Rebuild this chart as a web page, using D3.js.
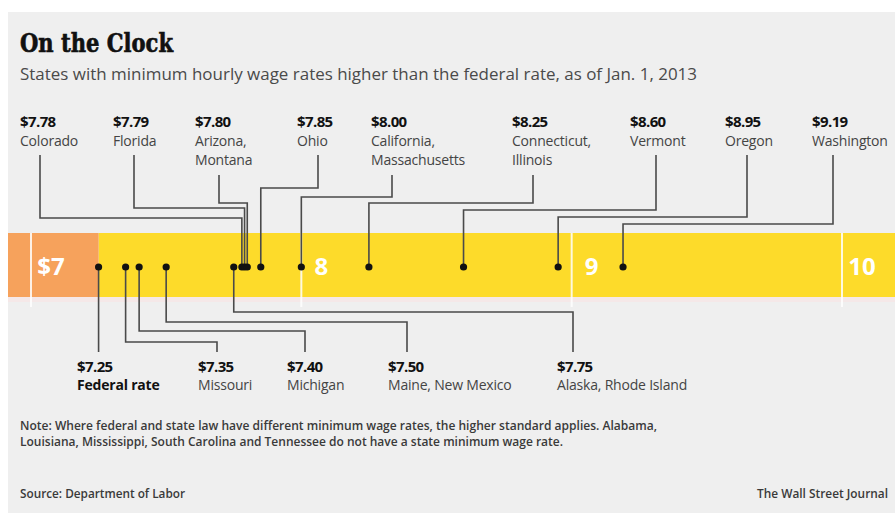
<!DOCTYPE html>
<html>
<head>
<meta charset="utf-8">
<script src="https://cdn.jsdelivr.net/npm/d3@7"></script>
<style>
  body { margin: 0; background: #fff; }
  svg { display: block; }
</style>
</head>
<body>
<svg id="chart"></svg>
<script>
// ---- data ----
const topValues = [7.78, 7.79, 7.80, 7.85, 8.00, 8.25, 8.60, 8.95, 9.19];
const topNames = ["Colorado", "Florida", "Arizona,|Montana", "Ohio", "California,|Massachusetts",
  "Connecticut,|Illinois", "Vermont", "Oregon", "Washington"];
const bottomValues = [7.25, 7.35, 7.40, 7.50, 7.75];
const bottomNames = ["Federal rate", "Missouri", "Michigan", "Maine, New Mexico", "Alaska, Rhode Island"];
const tickValues = [7, 8, 9, 10];
const tickLabels = ["$7", "8", "9", "10"];

// ---- label layout (annotation placement, not data) ----
const topLabelX = [20, 113, 195, 297, 371, 512, 630, 725, 812];
const topElbowY = [218, 208, 203, 188, 197, 203, 210, 217, 224];
const topLineOffset = [20, 21, 24, 21, 21, 21, 26, 22, 21];
const bottomLabelX = [77, 198, 287, 388, 557];
const bottomElbowY = [null, 342, 331, 322, 312];
const bottomLineOffset = [0, 19, 18, 19, 16];

const width = 895, height = 513;
const barTop = 233, barHeight = 64, dotY = 267;

const svg = d3.select("#chart").attr("width", width).attr("height", height);

svg.append("rect").attr("x", 8).attr("y", 12).attr("width", width - 8).attr("height", height - 12)
  .attr("fill", "#efefef");

const x = d3.scaleLinear().domain([7, 10]).range([31, 842]);
const federal = bottomValues[0];

// title
svg.append("text").attr("x", 20).attr("y", 52)
  .attr("font-family", "DejaVu Serif Condensed, DejaVu Serif").attr("font-stretch", "condensed")
  .attr("font-weight", "bold").attr("font-size", 26).attr("fill", "#111")
  .attr("stroke", "#111").attr("stroke-width", 0.6)
  .attr("textLength", 153).attr("lengthAdjust", "spacingAndGlyphs")
  .text("On the Clock");

svg.append("text").attr("x", 20).attr("y", 80)
  .attr("font-family", "Open Sans").attr("font-size", 15.5).attr("fill", "#4a4a4a")
  .attr("textLength", 677).attr("lengthAdjust", "spacingAndGlyphs")
  .text("States with minimum hourly wage rates higher than the federal rate, as of Jan. 1, 2013");

// bar
svg.append("rect").attr("x", x(federal)).attr("y", barTop)
  .attr("width", width - x(federal)).attr("height", barHeight).attr("fill", "#fddb2a");
svg.append("rect").attr("x", 8).attr("y", barTop)
  .attr("width", x(federal) - 8).attr("height", barHeight).attr("fill", "#f6a25c");
svg.append("rect").attr("x", 8).attr("y", barTop + barHeight)
  .attr("width", width - 8).attr("height", 5).attr("fill", "#f6e6e6").attr("opacity", 0.8);

const ticks = svg.append("g");
ticks.selectAll("line").data(tickValues).join("line")
  .attr("x1", d => x(d)).attr("x2", d => x(d))
  .attr("y1", barTop).attr("y2", barTop + barHeight + 10)
  .attr("stroke", "#fff").attr("stroke-width", 2).attr("opacity", 0.85);
ticks.selectAll("text").data(tickValues).join("text")
  .attr("x", d => x(d) + 20).attr("y", 275)
  .attr("text-anchor", "middle")
  .attr("font-family", "Open Sans").attr("font-weight", "bold").attr("font-size", 24)
  .attr("fill", "#fff")
  .text((d, i) => tickLabels[i]);

// leader lines
const lineColor = "#4a4a4a";
const leaders = svg.append("g").attr("fill", "none").attr("stroke", lineColor).attr("stroke-width", 1.6);

topValues.forEach((v, i) => {
  const lines = topNames[i].split("|").length;
  const ax = topLabelX[i] + topLineOffset[i];
  const startY = 155 + (lines - 1) * 20;
  leaders.append("path")
    .attr("d", `M${x(v)},${dotY}V${topElbowY[i]}H${ax}V${startY}`);
});

bottomValues.forEach((v, i) => {
  const d = bottomElbowY[i] == null
    ? `M${x(v)},${dotY}V352`
    : `M${x(v)},${dotY}V${bottomElbowY[i]}H${bottomLabelX[i] + bottomLineOffset[i]}V352`;
  leaders.append("path").attr("d", d);
});

// dots
svg.append("g").selectAll("circle").data(topValues.concat(bottomValues)).join("circle")
  .attr("cx", d => x(d)).attr("cy", dotY).attr("r", 3.6).attr("fill", "#111");

// labels
const fmt = d3.format("$.2f");
const topG = svg.append("g").attr("font-family", "Open Sans");
topValues.forEach((v, i) => {
  const g = topG.append("g");
  g.append("text").attr("x", topLabelX[i]).attr("y", 127)
    .attr("font-weight", "bold").attr("font-size", 15).attr("letter-spacing", -0.6).attr("fill", "#111")
    .text(fmt(v));
  topNames[i].split("|").forEach((s, j) => {
    g.append("text").attr("x", topLabelX[i]).attr("y", 146 + j * 19)
      .attr("font-size", 14).attr("fill", "#444").attr("letter-spacing", -0.2).text(s);
  });
});

const botG = svg.append("g").attr("font-family", "Open Sans");
bottomValues.forEach((v, i) => {
  botG.append("text").attr("x", bottomLabelX[i]).attr("y", 372)
    .attr("font-weight", "bold").attr("font-size", 15).attr("letter-spacing", -0.6).attr("fill", "#111")
    .text(fmt(v));
  botG.append("text").attr("x", bottomLabelX[i]).attr("y", 390)
    .attr("font-size", 14).attr("letter-spacing", -0.2)
    .attr("font-weight", i === 0 ? "bold" : "normal")
    .attr("fill", i === 0 ? "#111" : "#444")
    .text(bottomNames[i]);
});

// notes
const foot = svg.append("g").attr("font-family", "Open Sans").attr("font-weight", 600)
  .attr("font-size", 12.5).attr("fill", "#3a3a3a");
foot.append("text").attr("x", 20).attr("y", 430).attr("textLength", 637).attr("lengthAdjust", "spacingAndGlyphs")
  .text("Note: Where federal and state law have different minimum wage rates, the higher standard applies. Alabama,");
foot.append("text").attr("x", 20).attr("y", 446).attr("textLength", 543).attr("lengthAdjust", "spacingAndGlyphs")
  .text("Louisiana, Mississippi, South Carolina and Tennessee do not have a state minimum wage rate.");
foot.append("text").attr("x", 20).attr("y", 498).attr("textLength", 165).attr("lengthAdjust", "spacingAndGlyphs")
  .text("Source: Department of Labor");
foot.append("text").attr("x", 757).attr("y", 498).attr("textLength", 131).attr("lengthAdjust", "spacingAndGlyphs")
  .text("The Wall Street Journal");
</script>
</body>
</html>
